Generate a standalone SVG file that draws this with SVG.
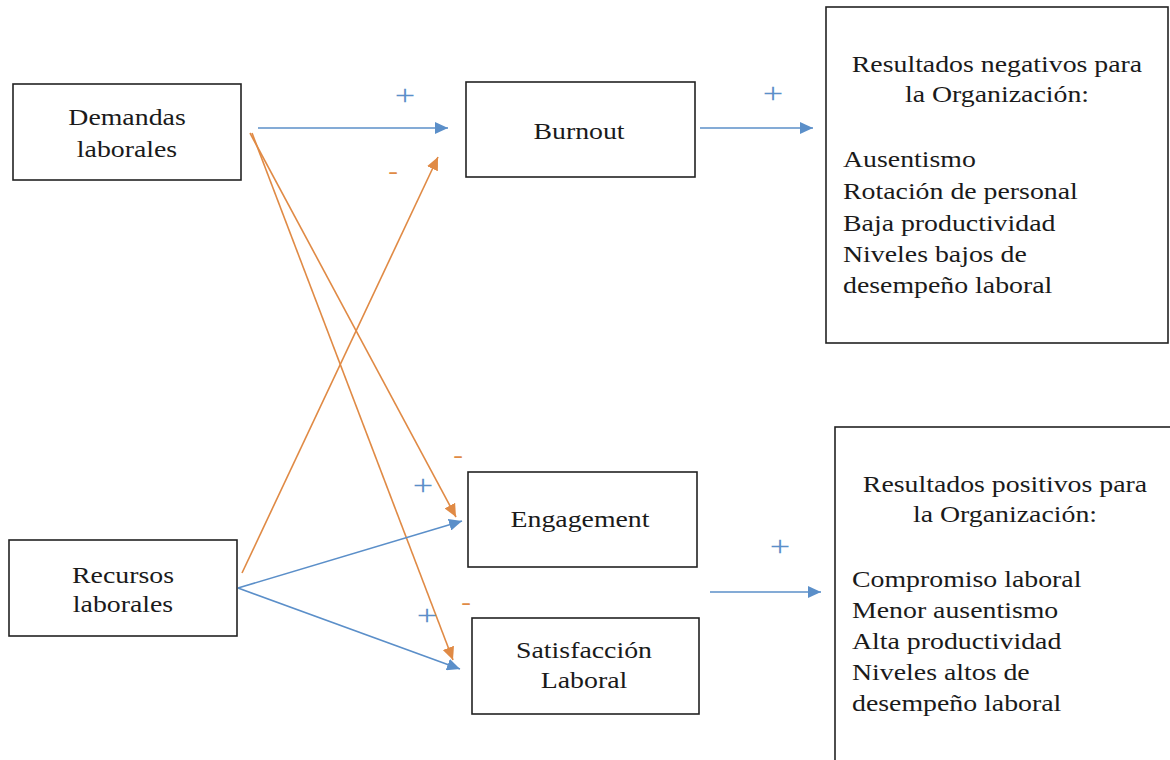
<svg xmlns="http://www.w3.org/2000/svg" width="1170" height="760" viewBox="0 0 1170 760">
<style>
.box{fill:#fff;stroke:#222;stroke-width:1.6}
.t{font-family:"Liberation Serif","Times New Roman",serif;font-size:23px;fill:#1a1a1a}
.c{text-anchor:middle}
.blue{stroke:#5B8FC9;stroke-width:1.6;fill:none}
.orange{stroke:#E08A45;stroke-width:1.6;fill:none}
.pb{font-family:"Liberation Serif","Times New Roman",serif;font-size:30px;fill:#5B8FC9;text-anchor:middle}
.po{font-family:"Liberation Serif","Times New Roman",serif;font-size:24px;fill:#E08A45;text-anchor:middle}
</style>
<defs>
<marker id="ab" markerUnits="userSpaceOnUse" markerWidth="14" markerHeight="12" refX="13" refY="6" orient="auto"><path d="M0,0 L13,6 L0,12 Z" fill="#5B8FC9"/></marker>
<marker id="ao" markerUnits="userSpaceOnUse" markerWidth="14" markerHeight="12" refX="13" refY="6" orient="auto"><path d="M0,0 L13,6 L0,12 Z" fill="#E08A45"/></marker>
</defs>
<rect width="1170" height="760" fill="#fff"/>
<g id="connectors">
<line class="blue" x1="258" y1="128" x2="448" y2="128" marker-end="url(#ab)"/>
<line class="blue" x1="700" y1="128" x2="813" y2="128" marker-end="url(#ab)"/>
<line class="blue" x1="710" y1="592" x2="821" y2="592" marker-end="url(#ab)"/>
<line class="orange" x1="250" y1="133" x2="456" y2="517" marker-end="url(#ao)"/>
<line class="orange" x1="252" y1="133" x2="453" y2="660" marker-end="url(#ao)"/>
<line class="orange" x1="242" y1="573" x2="438" y2="157" marker-end="url(#ao)"/>
<line class="blue" x1="238" y1="588" x2="462" y2="521" marker-end="url(#ab)"/>
<line class="blue" x1="238" y1="588" x2="460" y2="669" marker-end="url(#ab)"/>
<text class="pb" transform="translate(405,105) scale(1.21,1)">+</text>
<text class="po" transform="translate(393,179) scale(1.21,1)">-</text>
<text class="pb" transform="translate(773,103) scale(1.21,1)">+</text>
<text class="po" transform="translate(458,463) scale(1.21,1)">-</text>
<text class="pb" transform="translate(423,495) scale(1.21,1)">+</text>
<text class="po" transform="translate(466,610) scale(1.21,1)">-</text>
<text class="pb" transform="translate(427,625) scale(1.21,1)">+</text>
<text class="pb" transform="translate(780,556) scale(1.21,1)">+</text>
</g>
<g id="demandas">
<rect class="box" x="13" y="84" width="228" height="96"/>
<text class="t c" transform="translate(127,125) scale(1.21,1)">Demandas</text>
<text class="t c" transform="translate(127,157) scale(1.21,1)">laborales</text>
</g>
<g id="recursos">
<rect class="box" x="9" y="540" width="228" height="96"/>
<text class="t c" transform="translate(123,583) scale(1.21,1)">Recursos</text>
<text class="t c" transform="translate(123,612) scale(1.21,1)">laborales</text>
</g>
<g id="burnout">
<rect class="box" x="466" y="82" width="229" height="95"/>
<text class="t c" transform="translate(579,139) scale(1.21,1)">Burnout</text>
</g>
<g id="engagement">
<rect class="box" x="468" y="472" width="229" height="95"/>
<text class="t c" transform="translate(580,527) scale(1.21,1)">Engagement</text>
</g>
<g id="satisfaccion">
<rect class="box" x="472" y="618" width="227" height="96"/>
<text class="t c" transform="translate(584,658) scale(1.21,1)">Satisfacción</text>
<text class="t c" transform="translate(584,688) scale(1.21,1)">Laboral</text>
</g>
<g id="negativos">
<rect class="box" x="826" y="7" width="342" height="336"/>
<text class="t c" transform="translate(997,72) scale(1.21,1)">Resultados negativos para</text>
<text class="t c" transform="translate(997,102) scale(1.21,1)">la Organización:</text>
<text class="t" transform="translate(843,167) scale(1.21,1)">Ausentismo</text>
<text class="t" transform="translate(843,199) scale(1.21,1)">Rotación de personal</text>
<text class="t" transform="translate(843,231) scale(1.21,1)">Baja productividad</text>
<text class="t" transform="translate(843,262) scale(1.21,1)">Niveles bajos de</text>
<text class="t" transform="translate(843,293) scale(1.21,1)">desempeño laboral</text>
</g>
<g id="positivos">
<rect class="box" x="835" y="427" width="345" height="345"/>
<text class="t c" transform="translate(1005,492) scale(1.21,1)">Resultados positivos para</text>
<text class="t c" transform="translate(1005,522) scale(1.21,1)">la Organización:</text>
<text class="t" transform="translate(852,587) scale(1.21,1)">Compromiso laboral</text>
<text class="t" transform="translate(852,618) scale(1.21,1)">Menor ausentismo</text>
<text class="t" transform="translate(852,649) scale(1.21,1)">Alta productividad</text>
<text class="t" transform="translate(852,680) scale(1.21,1)">Niveles altos de</text>
<text class="t" transform="translate(852,711) scale(1.21,1)">desempeño laboral</text>
</g>
</svg>
